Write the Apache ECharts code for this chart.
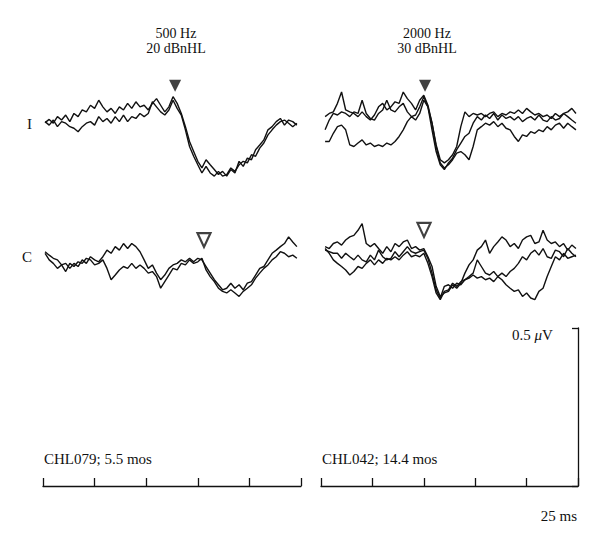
<!DOCTYPE html>
<html>
<head>
<meta charset="utf-8">
<script src="https://cdn.jsdelivr.net/npm/echarts@6/dist/echarts.min.js"></script>
<style>
  html, body { margin: 0; padding: 0; background: #fff; }
  #chart { width: 600px; height: 535px; }
</style>
</head>
<body>
<div id="chart"></div>
<script>
// sweep settings (ms)
const sweepMs = [0, 125]
const tickMs = 25
const stepMs = 2
const start500 = 1
const start2000 = 2

// amplitudes in nV, one value every stepMs
// 500 Hz, ipsilateral (I)
const ipsi500a = [-5, 5, -7, 14, 3, 19, -2, 24, 14, 35, 29, 50, 40, 66, 45, 29, 40, 24, 45, 35, 56, 40, 61, 45, 50, 35, 56, 71, 50, 29, 45, 77, 56, 24, -18, -65, -97, -128, -149, -123, -139, -154, -170, -160, -175, -154, -165, -128, -144, -118, -123, -91, -76, -60, -28, -18, -2, 8, -13, 3, -2, -13]
const ipsi500b = [-2, -13, 3, -18, -2, -7, -18, -23, -34, -18, -7, -2, -13, 14, -2, 8, -7, 14, -2, 19, -2, 14, 8, 24, 14, 24, 61, 45, 29, 19, 35, 66, 40, 19, -28, -81, -112, -139, -165, -144, -165, -175, -160, -175, -170, -149, -160, -139, -128, -133, -107, -112, -86, -70, -44, -28, -13, -2, 3, -7, -18, -7]
// 500 Hz, contralateral (C)
const contra500a = [20, 9, -1, -6, -22, -17, -33, -17, -27, -6, -17, 4, -6, -12, 4, 25, 15, 36, 25, 46, 30, 46, 36, 20, -6, -33, -22, -48, -69, -54, -33, -22, -17, -6, -12, -1, -12, -1, -6, -27, -48, -69, -85, -101, -96, -80, -96, -85, -101, -80, -75, -54, -33, -27, -6, 15, 25, 36, 46, 67, 51, 36]
const contra500b = [15, -6, -17, -33, -22, -43, -17, -27, -12, -17, -1, -6, -22, -17, -6, -33, -69, -54, -38, -27, -33, -17, -33, -22, -33, -48, -43, -59, -96, -75, -54, -33, -38, -17, -22, -6, -17, -12, -1, -38, -59, -75, -96, -106, -111, -101, -111, -122, -106, -96, -85, -64, -48, -33, -22, -6, 4, 20, 15, 4, 9, -1]
// 2000 Hz, ipsilateral (I)
const ipsi2000a = [14, 24, 29, 56, 92, 35, 29, 24, 14, 29, 14, 3, 19, 45, 56, 35, 45, 61, 56, 92, 71, 56, 35, 66, 82, 50, -7, -76, -123, -133, -123, -107, -81, -18, 29, 14, 24, 19, 24, 14, 24, 29, 14, 24, 19, 29, 24, 35, 24, 40, 29, 19, 24, 14, 19, 8, 24, 14, 24, 29, 40, 24]
const ipsi2000b = [-28, 3, 24, 19, 29, 24, 14, 29, 24, 66, 24, 8, 3, 24, 35, 66, 35, 29, 45, 56, 29, 14, 19, 45, 77, 45, -28, -97, -139, -154, -133, -118, -91, -70, -49, -39, -7, 14, 3, 19, 8, 24, 3, 19, 8, 14, 3, 14, -2, 8, 14, 3, 19, 3, -2, 14, 3, 8, 24, 14, 3, -7]
const ipsi2000c = [-65, -65, -39, -18, -13, -28, -76, -81, -70, -60, -76, -70, -81, -76, -81, -70, -76, -65, -49, -28, -2, 14, 3, 24, 66, 45, -7, -81, -133, -149, -139, -123, -102, -97, -107, -123, -81, -28, -18, -7, -13, -2, -18, -7, -23, -28, -49, -65, -44, -49, -34, -39, -28, -34, -18, -28, -13, -7, -23, -7, -18, -28]
// 2000 Hz, contralateral (C)
const contra2000a = [36, 30, 46, 51, 41, 57, 67, 72, 88, 109, 46, 36, 46, 30, 15, 36, 20, 46, 36, 51, 57, 30, 36, 25, 30, 4, -27, -90, -122, -111, -106, -85, -96, -80, -48, -22, -6, 25, 36, 57, 15, 36, 51, 67, 57, 36, 46, 30, 57, 67, 72, 46, 51, 88, 57, 46, 51, 36, 46, 25, 41, 30]
const contra2000b = [25, 20, 15, 15, -1, 15, 4, -6, 9, -6, -12, 9, -6, 25, 4, -6, -1, 20, 4, 20, 36, 20, 15, 20, 25, -1, -48, -101, -127, -90, -85, -96, -80, -85, -69, -59, -48, -6, -27, -48, -54, -43, -59, -48, -59, -43, -33, -17, 4, -6, 15, 25, 9, 30, 4, -1, 25, 20, 4, 30, 15, 4]
const contra2000c = [30, 15, -6, -17, -27, -38, -54, -43, -27, -33, -17, -6, -22, -6, -17, -1, -6, 4, -6, 9, 20, 4, 9, 4, 15, -17, -59, -111, -132, -106, -101, -80, -90, -75, -69, -64, -54, -64, -59, -69, -64, -75, -59, -69, -85, -96, -106, -101, -122, -111, -127, -132, -106, -96, -59, -27, 4, -6, 15, -1, 4, 9]

// response markers [ms, nV]
const markIpsi500 = [64, 112]
const markIpsi2000 = [50.6, 112]
const markContra500 = [78, 57]
const markContra2000 = [50.1, 89]

const scaleBarNv = 500

const font = '"Liberation Serif", "DejaVu Serif", serif'
const ink = '#111'

function toPairs(values, startMs) {
  return values.map((v, i) => [startMs + i * stepMs, v])
}

function traceSeries(values, startMs, gridIdx) {
  return {
    type: 'line',
    xAxisIndex: gridIdx,
    yAxisIndex: gridIdx,
    data: toPairs(values, startMs),
    showSymbol: false,
    silent: true,
    clip: false,
    lineStyle: { color: ink, width: 1.4 }
  }
}

function markSeries(point, gridIdx, filled) {
  return {
    type: 'scatter',
    xAxisIndex: gridIdx,
    yAxisIndex: gridIdx,
    data: [point],
    symbol: 'triangle',
    symbolRotate: 180,
    symbolSize: filled ? [12, 12] : [13, 14],
    clip: false,
    silent: true,
    itemStyle: filled
      ? { color: ink }
      : { color: '#fff', borderColor: ink, borderWidth: 2.2 }
  }
}

function hiddenX(gridIdx) {
  return { type: 'value', gridIndex: gridIdx, min: sweepMs[0], max: sweepMs[1], show: false }
}

function hiddenY(gridIdx) {
  return { type: 'value', gridIndex: gridIdx, min: -200, max: 200, show: false }
}

function timeAxis(gridIdx) {
  return {
    type: 'value',
    gridIndex: gridIdx,
    min: sweepMs[0],
    max: sweepMs[1],
    interval: tickMs,
    axisLine: { show: true, onZero: false, lineStyle: { color: ink, width: 1.3 } },
    axisTick: { show: true, inside: true, length: 8, lineStyle: { color: ink, width: 1.3 } },
    axisLabel: { show: false },
    splitLine: { show: false }
  }
}

function textEl(text, x, y, align, size) {
  return {
    type: 'text',
    x: x,
    y: y,
    style: {
      text: text,
      fontSize: size || 15,
      fontFamily: font,
      fill: ink,
      textAlign: align || 'left',
      textVerticalAlign: 'middle'
    }
  }
}

const chart = echarts.init(document.getElementById('chart'), null, { renderer: 'svg' })

chart.setOption({
  animation: false,
  backgroundColor: '#fff',
  grid: [
    { left: 43, top: 58, width: 258, height: 126 },
    { left: 321, top: 58, width: 257, height: 126 },
    { left: 43, top: 195, width: 258, height: 126 },
    { left: 321, top: 195, width: 257, height: 126 },
    { left: 43, top: 328, width: 258, height: 158 },
    { left: 321, top: 328, width: 257, height: 158 }
  ],
  xAxis: [hiddenX(0), hiddenX(1), hiddenX(2), hiddenX(3), timeAxis(4), timeAxis(5)],
  yAxis: [
    hiddenY(0),
    hiddenY(1),
    hiddenY(2),
    hiddenY(3),
    { type: 'value', gridIndex: 4, min: 0, max: scaleBarNv, show: false },
    {
      type: 'value',
      gridIndex: 5,
      position: 'right',
      min: 0,
      max: scaleBarNv,
      interval: scaleBarNv,
      axisLine: { show: true, onZero: false, lineStyle: { color: ink, width: 1.3 } },
      axisTick: { show: true, inside: true, length: 6, lineStyle: { color: ink, width: 1.3 } },
      axisLabel: { show: false },
      splitLine: { show: false }
    }
  ],
  series: [
    traceSeries(ipsi500a, start500, 0),
    traceSeries(ipsi500b, start500, 0),
    traceSeries(ipsi2000a, start2000, 1),
    traceSeries(ipsi2000b, start2000, 1),
    traceSeries(ipsi2000c, start2000, 1),
    traceSeries(contra500a, start500, 2),
    traceSeries(contra500b, start500, 2),
    traceSeries(contra2000a, start2000, 3),
    traceSeries(contra2000b, start2000, 3),
    traceSeries(contra2000c, start2000, 3),
    markSeries(markIpsi500, 0, true),
    markSeries(markIpsi2000, 1, true),
    markSeries(markContra500, 2, false),
    markSeries(markContra2000, 3, false)
  ],
  graphic: [
    textEl('500 Hz', 176, 33, 'center', 14),
    textEl('20 dBnHL', 176, 48, 'center', 14),
    textEl('2000 Hz', 427, 33, 'center', 14),
    textEl('30 dBnHL', 427, 48, 'center', 14),
    textEl('I', 27, 124),
    textEl('C', 22, 257),
    textEl('CHL079; 5.5 mos', 44, 459),
    textEl('CHL042; 14.4 mos', 322, 459),
    textEl('25 ms', 577, 516, 'right'),
    {
      type: 'text',
      x: 512,
      y: 335,
      style: {
        text: '0.5 {mu|μ}V',
        fontSize: 15,
        fontFamily: font,
        fill: ink,
        textVerticalAlign: 'middle',
        rich: { mu: { fontStyle: 'italic', fontSize: 15, fontFamily: font } }
      }
    }
  ]
})
</script>
</body>
</html>
